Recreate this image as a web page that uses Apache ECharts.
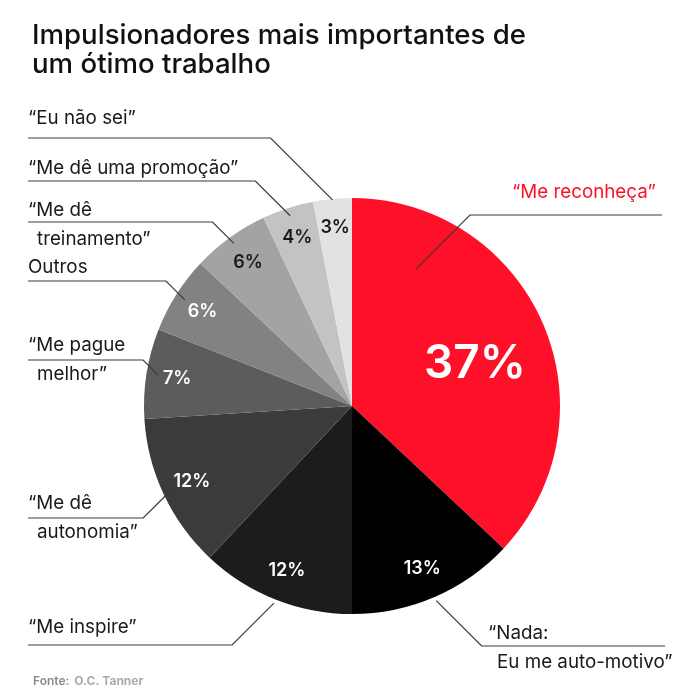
<!DOCTYPE html>
<html><head><meta charset="utf-8">
<script src="https://cdn.jsdelivr.net/npm/echarts@6/dist/echarts.min.js"></script>
<style>html,body{margin:0;padding:0;background:#fff}#c{width:700px;height:700px}</style>
</head><body><div id="c"></div>
<script>
// ---- data ----
const categories = ['“Me reconheça”','“Nada:\nEu me auto-motivo”','“Me inspire”','“Me dê\nautonomia”','“Me pague\nmelhor”','Outros','“Me dê\ntreinamento”','“Me dê uma promoção”','“Eu não sei”'];
const values = [37, 13, 12, 12, 7, 6, 6, 4, 3];

// ---- styles / layout (not data) ----
const sliceColors = ['#fe1128','#000000','#1c1c1c','#3b3b3b','#5c5c5c','#828282','#a3a3a3','#c3c3c3','#e2e2e2'];
const pctColors = ['#fff','#fff','#fff','#fff','#fff','#fff','#1a1a1a','#1a1a1a','#1a1a1a'];
const FONT = 'Inter';
const CX = 352, CY = 406, R = 208;
const labelPos = [[512,192],[488,633],[28,627],[28,503],[28,345],[28,267],[28,210],[28,168],[28,118]];
const lineY = [215,646,645,518,360,281,222,181,138];
const lineEndX = [662,665,28,28,28,28,28,28,28];
const leaderR = [151,212,212,202,196,198,201,200,207];
const leaderAngleOverride = {0: 25};
const pctR = [130,177,177,177,177,177,177,177,179];
const pctAngleOverride = {0: 71};
const LH = 29;
const LABEL_SIZE = 18.8;

const total = values.reduce((a,b)=>a+b,0);
const midAngles = [];
{ let acc = 0; values.forEach(v => { midAngles.push((acc + v/2) / total * 360); acc += v; }); }
function polar(deg, r){ const a = deg*Math.PI/180; return [CX + r*Math.sin(a), CY - r*Math.cos(a)]; }

const chart = echarts.init(document.getElementById('c'), null, {renderer:'canvas'});
chart.setOption({
  animation: false,
  backgroundColor: '#fff',
  title: [{
    text: 'Impulsionadores mais importantes de\num ótimo trabalho',
    left: 27, top: 16,
    textStyle: {fontFamily: FONT, fontSize: 27.6, fontWeight: 500, color: '#111', lineHeight: 29}
  },{
    text: '{a|Fonte:} {b|O.C. Tanner}',
    left: 28, top: 667,
    textStyle: {rich: {
      a: {fontFamily: FONT, fontSize: 12, fontWeight: 600, color: '#8a8a8a'},
      b: {fontFamily: FONT, fontSize: 12, color: '#aaaaaa'}
    }}
  }],
  series: [{
    type: 'pie',
    center: [CX, CY], radius: [0, R],
    startAngle: 90, clockwise: true,
    avoidLabelOverlap: false,
    silent: true,
    data: categories.map((n,i)=>({name: n, value: values[i],
      itemStyle: {color: sliceColors[i]},
      label: {color: pctColors[i], fontSize: i === 0 ? 46 : 18}})),
    label: {show: true, position: 'inside', formatter: '{c}%', fontFamily: FONT, fontWeight: 600},
    labelLine: {show: false},
    labelLayout: function(p){
      const i = p.dataIndex;
      const ang = pctAngleOverride[i] != null ? pctAngleOverride[i] : midAngles[i];
      const pt = polar(ang, pctR[i]);
      return {x: pt[0], y: pt[1], align: 'center', verticalAlign: 'middle'};
    }
  },{
    type: 'pie',
    center: [CX, CY], radius: [0, R],
    startAngle: 90, clockwise: true,
    avoidLabelOverlap: false,
    silent: true, z: 5,
    data: categories.map((n,i)=>({name: n, value: values[i],
      label: i === 0 ? {color: '#fe1128'} : {}})),
    itemStyle: {color: 'rgba(0,0,0,0)'},
    label: {
      show: true, position: 'outside', color: '#1a1a1a',
      fontFamily: FONT, fontSize: LABEL_SIZE,
      formatter: function(p){
        return p.name.split('\n').map((l,k)=> (k === 0 ? '{a|' : '{b|') + l + '}').join('\n');
      },
      rich: {
        a: {fontFamily: FONT, fontSize: LABEL_SIZE, lineHeight: LH},
        b: {fontFamily: FONT, fontSize: LABEL_SIZE, lineHeight: LH, padding: [0,0,0,9]}
      }
    },
    labelLine: {show: true, lineStyle: {color: '#3a3a3a', width: 1.2}},
    labelLayout: function(p){
      const i = p.dataIndex;
      const ang = leaderAngleOverride[i] != null ? leaderAngleOverride[i] : midAngles[i];
      const s = polar(ang, leaderR[i]);
      const dy = Math.abs(lineY[i] - s[1]);
      const sign = lineEndX[i] > s[0] ? 1 : -1;
      const pts = [s, [s[0] + sign*dy, lineY[i]], [lineEndX[i], lineY[i]]];
      return {x: labelPos[i][0], y: labelPos[i][1] - LH/2, align: 'left', verticalAlign: 'top', labelLinePoints: pts};
    }
  }]
});
</script></body></html>
